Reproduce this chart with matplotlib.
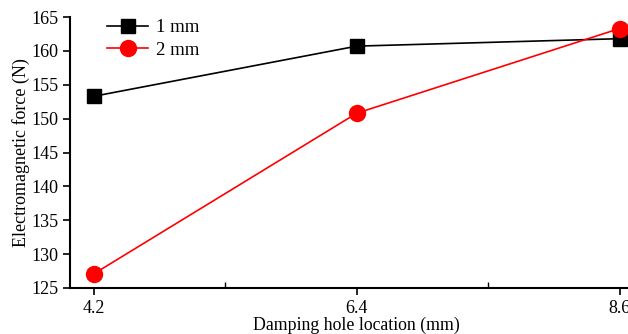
import matplotlib
matplotlib.use("Agg")
import matplotlib.pyplot as plt
from matplotlib.ticker import FixedLocator

plt.rcParams['font.family'] = ['Liberation Serif', 'DejaVu Serif']
plt.rcParams['mathtext.fontset'] = 'stix'

x = [4.2, 6.4, 8.6]
y_1mm = [153.3, 160.7, 161.8]
y_2mm = [127.1, 150.8, 163.3]
labels = ['1 mm', '2 mm']

fig = plt.figure(figsize=(6.28, 3.34), dpi=100)
ax = fig.add_axes([70/628, (334-288)/334, (628-70)/628 * (8.8-4.0)/(8.67-4.0), (288-17)/334])

ax.plot(x, y_1mm, color='black', marker='s', markersize=10, lw=1.2, label=labels[0])
ax.plot(x, y_2mm, color='red', marker='o', markersize=11.5, lw=1.2, label=labels[1])

ax.set_xlim(4.0, 8.8)
ax.set_ylim(125, 165)
ax.set_xticks(x)
ax.set_xticklabels(['4.2', '6.4', '8.6'])
ax.xaxis.set_minor_locator(FixedLocator([5.3, 7.5]))
ax.set_yticks(range(125, 166, 5))
ax.tick_params(axis='both', labelsize=13, width=1.2, length=5, direction='out')
ax.tick_params(axis='x', which='minor', direction='in', length=4, width=1.0)
ax.spines['top'].set_visible(False)
ax.spines['right'].set_visible(False)
ax.spines['left'].set_linewidth(1.5)
ax.spines['bottom'].set_linewidth(1.5)

ax.set_xlabel('Damping hole location (mm)', fontsize=12.8, labelpad=0)
ax.set_ylabel('Electromagnetic force (N)', fontsize=13, labelpad=1)

ax.legend(loc='upper left', bbox_to_anchor=(0.035, 1.055), frameon=False, fontsize=13.5,
          handlelength=2.2, handletextpad=0.4, labelspacing=0.3)

fig.savefig('out.png', dpi=100)
